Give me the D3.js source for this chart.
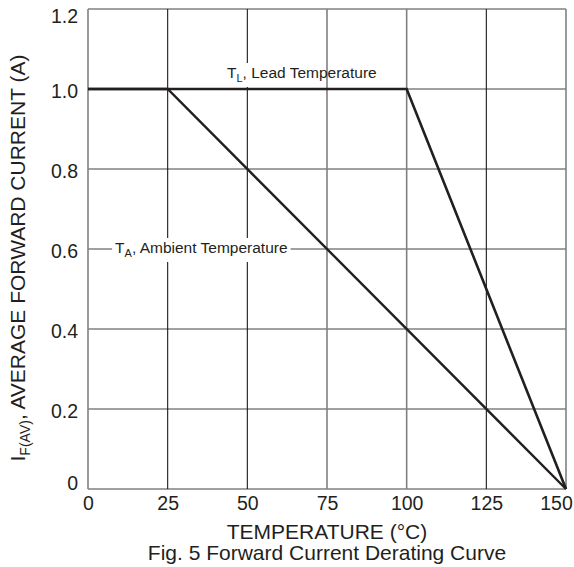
<!DOCTYPE html>
<html>
<head>
<meta charset="utf-8">
<script src="https://cdn.jsdelivr.net/npm/d3@7"></script>
<style>
  body { margin: 0; background: #fff; }
  text { font-family: "Liberation Sans", Arial, sans-serif; fill: #231f20; }
</style>
</head>
<body>
<svg id="svg"></svg>
<script>
// Data
const xTicks = [0, 25, 50, 75, 100, 125, 150];
const yTicks = [0, 0.2, 0.4, 0.6, 0.8, 1.0, 1.2];
const yTickLabels = ["0", "0.2", "0.4", "0.6", "0.8", "1.0", "1.2"];

// T_L, lead temperature derating
const leadTemp = [0, 100, 150];
const leadCurrent = [1.0, 1.0, 0];

// T_A, ambient temperature derating
const ambientTemp = [0, 25, 150];
const ambientCurrent = [1.0, 1.0, 0];

const width = 574;
const height = 567;

let svg = d3.select("#svg")
    .attr("width", width)
    .attr("height", height);

// plot area
const plotLeft = 88, plotRight = 566, plotTop = 9, plotBottom = 489;

let x = d3.scaleLinear().domain([0, 150]).range([plotLeft, plotRight]);
let y = d3.scaleLinear().domain([0, 1.2]).range([plotBottom, plotTop]);

// some of the vertical grid lines are printed darker than the others
const darkVerticals = [25, 50, 125];

// horizontal grid
svg.append("g")
    .selectAll("line")
    .data(yTicks)
    .enter()
    .append("line")
    .attr("x1", plotLeft)
    .attr("x2", plotRight)
    .attr("y1", d => y(d))
    .attr("y2", d => y(d))
    .style("stroke", "#808080")
    .style("stroke-width", 1.6);

// vertical grid
svg.append("g")
    .selectAll("line")
    .data(xTicks)
    .enter()
    .append("line")
    .attr("x1", d => x(d))
    .attr("x2", d => x(d))
    .attr("y1", plotTop)
    .attr("y2", plotBottom)
    .style("stroke", d => darkVerticals.includes(d) ? "#1a1a1a" : "#808080")
    .style("stroke-width", d => darkVerticals.includes(d) ? 1.1 : 1.6);

// y axis tick labels
let yAxis = svg.append("g")
    .attr("transform", "translate(" + plotLeft + ",0)")
    .call(d3.axisLeft(y).tickValues(yTicks).tickSize(0).tickPadding(10)
        .tickFormat((d, i) => yTickLabels[i]));
yAxis.attr("font-family", null).attr("font-size", null);
yAxis.select(".domain").remove();
yAxis.selectAll("text")
    .style("font-size", "19.5px")
    .attr("fill", null)
    .attr("dy", d => d === 1.2 ? "0.7em" : (d === 0 ? "0.02em" : "0.45em"));

// x axis tick labels
let xAxis = svg.append("g")
    .attr("transform", "translate(0," + plotBottom + ")")
    .call(d3.axisBottom(x).tickValues(xTicks).tickSize(0).tickPadding(7));
xAxis.attr("font-family", null).attr("font-size", null);
xAxis.select(".domain").remove();
xAxis.selectAll("text")
    .style("font-size", "19.5px")
    .attr("fill", null)
    .attr("dx", d => d === 150 ? -10 : 0);

// axis titles
svg.append("text")
    .attr("x", (plotLeft + plotRight) / 2)
    .attr("y", 539)
    .attr("text-anchor", "middle")
    .style("font-size", "21px")
    .text("TEMPERATURE (°C)");

svg.append("text")
    .attr("x", (plotLeft + plotRight) / 2)
    .attr("y", 560)
    .attr("text-anchor", "middle")
    .style("font-size", "21px")
    .text("Fig. 5 Forward Current Derating Curve");

let yTitle = svg.append("text")
    .attr("transform", "translate(25," + 258 + ") rotate(-90)")
    .attr("text-anchor", "middle")
    .style("font-size", "21px");
yTitle.append("tspan").text("I");
yTitle.append("tspan").attr("dy", 5).style("font-size", "14px").text("F(AV)");
yTitle.append("tspan").attr("dy", -5).text(", AVERAGE FORWARD CURRENT (A)");

// curve labels (white boxes knock out the grid behind them)
function curveLabel(px, py, sub, rest, boxAll) {
    let g = svg.append("g");
    let bg = g.append("rect").style("fill", "#fff");
    let t = g.append("text")
        .attr("x", px)
        .attr("y", py)
        .style("font-size", "15.5px");
    let t1 = t.append("tspan").text("T");
    let t2 = t.append("tspan").attr("dy", 4).style("font-size", "11px").text(sub);
    let t3 = t.append("tspan").attr("dy", -4).text(rest);
    let b = t.node().getBBox();
    let w = boxAll ? b.width + 6 : t1.node().getComputedTextLength() + t2.node().getComputedTextLength() + 10;
    bg.attr("x", b.x - 3).attr("y", b.y - 1).attr("width", w).attr("height", b.height + 4);
}

curveLabel(x(43.6), y(1.0) - 11, "L", ", Lead Temperature", false);
curveLabel(x(8.5), y(0.6) + 4, "A", ", Ambient Temperature", true);

// derating curves
let line = d3.line()
    .x(d => x(d[0]))
    .y(d => y(d[1]));

svg.append("path")
    .datum(ambientTemp.map((t, i) => [t, ambientCurrent[i]]))
    .attr("d", line)
    .style("fill", "none")
    .style("stroke", "#231f20")
    .style("stroke-width", 2.4);

svg.append("path")
    .datum(leadTemp.map((t, i) => [t, leadCurrent[i]]))
    .attr("d", line)
    .style("fill", "none")
    .style("stroke", "#231f20")
    .style("stroke-width", 2.6)
    .style("stroke-linejoin", "miter");
</script>
</body>
</html>
